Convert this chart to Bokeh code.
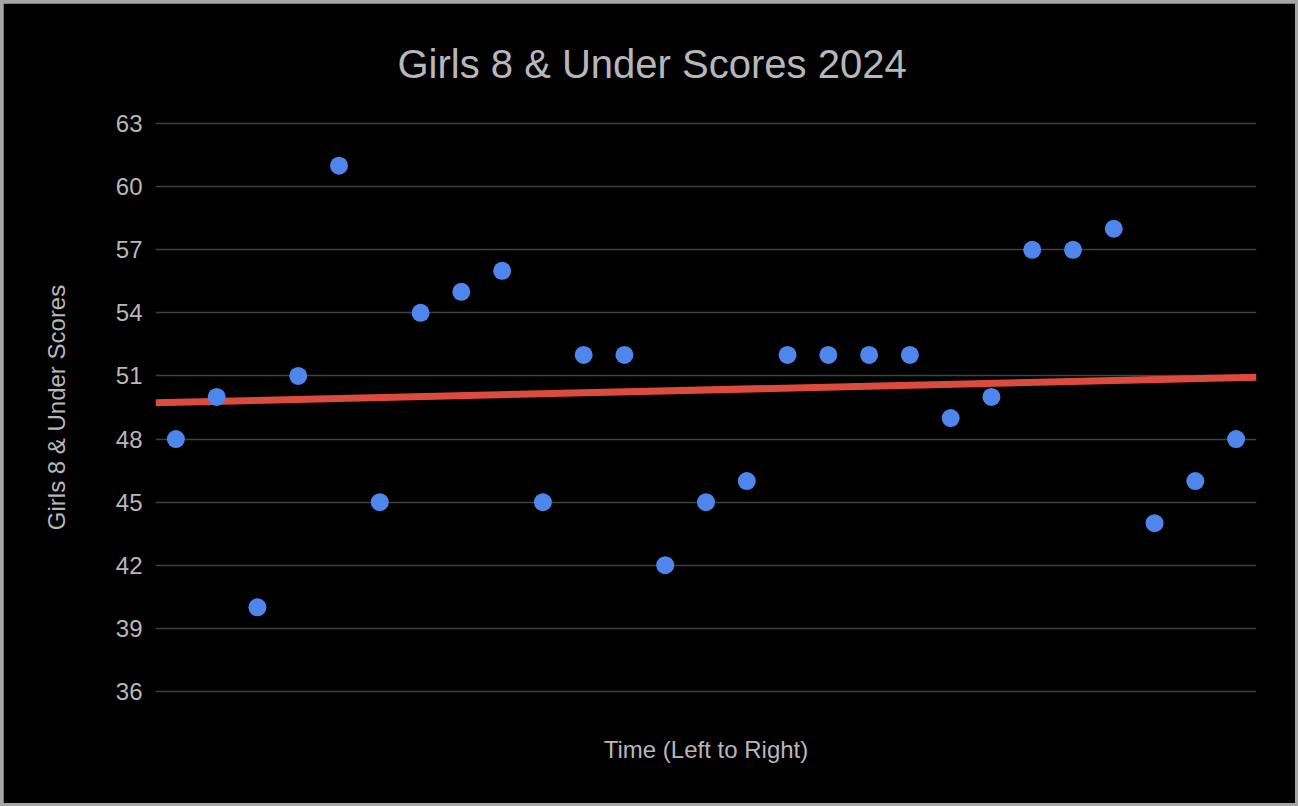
import numpy as np
from bokeh.plotting import figure
from bokeh.layouts import column
from bokeh.models import Range1d, FixedTicker, ColumnDataSource
from bokeh.embed import file_html
from bokeh.resources import INLINE

# ---- data ----
positions = list(range(1, 28))
scores = [48, 50, 40, 51, 61, 45, 54, 55, 56, 45, 52, 52, 42, 45, 46,
          52, 52, 52, 52, 49, 50, 57, 57, 58, 44, 46, 48]
y_ticks = [36, 39, 42, 45, 48, 51, 54, 57, 60, 63]
title_text = "Girls 8 & Under Scores 2024"
x_title = "Time (Left to Right)"
y_title = "Girls 8 & Under Scores"

FONT = "Liberation Sans"
TXT = "#b7b7b7"

p = figure(width=1292, height=800, output_backend="svg", toolbar_location=None,
           x_range=Range1d(0.5, 27.5), y_range=Range1d(35.9, 63.1),
           min_border_left=152, min_border_right=39,
           min_border_top=117, min_border_bottom=110)

p.background_fill_color = "black"
p.border_fill_color = "black"
p.outline_line_color = "black"
p.outline_line_width = 2

p.title.text = title_text
p.title.align = "left"
p.title.offset = 242
p.title.text_font = FONT
p.title.text_font_size = "40px"
p.title.text_font_style = "normal"
p.title.text_color = TXT
p.title.standoff = 72

# grid
p.xgrid.visible = False
p.ygrid.ticker = FixedTicker(ticks=y_ticks)
p.ygrid.grid_line_color = "#404040"
p.ygrid.grid_line_width = 1.5

# y axis
p.yaxis.ticker = FixedTicker(ticks=y_ticks)
p.yaxis.axis_line_color = None
p.yaxis.major_tick_line_color = None
p.yaxis.minor_tick_line_color = None
p.yaxis.major_label_text_font = FONT
p.yaxis.major_label_text_font_size = "24px"
p.yaxis.major_label_text_color = TXT
p.yaxis.major_label_standoff = 7
p.yaxis.axis_label = y_title
p.yaxis.axis_label_text_font = FONT
p.yaxis.axis_label_text_font_size = "24px"
p.yaxis.axis_label_text_font_style = "normal"
p.yaxis.axis_label_text_color = TXT
p.yaxis.axis_label_standoff = 43

# x axis
p.xaxis.ticker = FixedTicker(ticks=[])
p.xaxis.axis_line_color = None
p.xaxis.major_tick_line_color = None
p.xaxis.minor_tick_line_color = None
p.xaxis.major_label_text_font_size = "0px"
p.xaxis.axis_label = x_title
p.xaxis.axis_label_text_font = FONT
p.xaxis.axis_label_text_font_size = "24px"
p.xaxis.axis_label_text_font_style = "normal"
p.xaxis.axis_label_text_color = TXT
p.xaxis.axis_label_standoff = 42

# trendline (linear regression of the data)
slope, intercept = np.polyfit(positions, scores, 1)
tx = [0.5, 27.5]
ty = [slope * v + intercept for v in tx]
p.line(tx, ty, line_color="#dd4b3e", line_width=7)

src = ColumnDataSource(dict(x=positions, y=scores))
p.scatter("x", "y", source=src, size=18, fill_color="#4f86ec", line_color=None)

layout = column(p, styles={"padding": "3px", "background-color": "#a6a6a6"})

open("out.html", "w").write(file_html(layout, INLINE))
